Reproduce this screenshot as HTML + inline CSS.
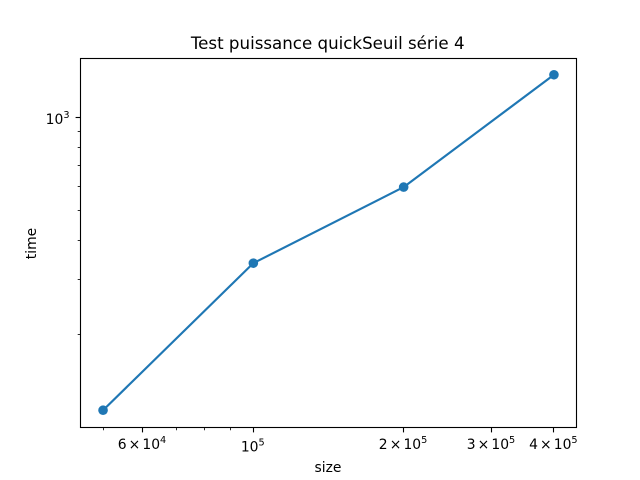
<!DOCTYPE html>
<html lang="fr">
<head>
<meta charset="utf-8">
<title>Test puissance quickSeuil série 4</title>
<style>
  html, body { margin: 0; padding: 0; background: #fff; }
  svg { display: block; }
  text { font-family: "DejaVu Sans", "Liberation Sans", sans-serif; fill: #000; }
</style>
</head>
<body>
<svg id="chart" xmlns="http://www.w3.org/2000/svg" width="640" height="480" viewBox="0 0 640 480">
  <rect x="0" y="0" width="640" height="480" fill="#ffffff"/>
  <text x="327.7" y="49" font-size="16.67" text-anchor="middle">Test puissance quickSeuil série 4</text>
  <text x="328" y="472" font-size="13.89" text-anchor="middle">size</text>
  <text x="36" y="243.5" font-size="13.89" text-anchor="middle" transform="rotate(-90 36 243.5)">time</text>
  <g id="ticks"></g>
  <g id="series"></g>
  <rect x="80.5" y="58.5" width="496" height="369" fill="none" stroke="#000" stroke-width="1.11"/>
</svg>
<script>
const sizes = [50000, 100000, 200000, 400000];
const times = [113.5, 339, 597, 1377];
const xMajorTicks = [60000, 100000, 200000, 300000, 400000];
const xMajorBases = ["6 × 10", "10", "2 × 10", "3 × 10", "4 × 10"];
const xMajorExponents = ["4", "5", "5", "5", "5"];
const xMinorTicks = [50000, 70000, 80000, 90000];
const yMajorTicks = [1000];
const yMajorBases = ["10"];
const yMajorExponents = ["3"];
const yMinorTicks = [200, 300, 400, 500, 600, 700, 800, 900];

const SVG_NS = "http://www.w3.org/2000/svg";
const plotLeft = 80.5, plotRight = 576.5, plotTop = 58, plotBottom = 427;
const MARGIN = 0.05;

function logExtent(values) {
  const lo = Math.log10(Math.min.apply(null, values));
  const hi = Math.log10(Math.max.apply(null, values));
  const pad = (hi - lo) * MARGIN;
  return [lo - pad, hi + pad];
}
const xExtent = logExtent(sizes);
const yExtent = logExtent(times);

function xScale(v) {
  return plotLeft + (Math.log10(v) - xExtent[0]) / (xExtent[1] - xExtent[0]) * (plotRight - plotLeft);
}
function yScale(v) {
  return plotBottom - (Math.log10(v) - yExtent[0]) / (yExtent[1] - yExtent[0]) * (plotBottom - plotTop);
}
function snap(p) {
  return Math.floor(p) + 0.5;
}

const tickLayer = document.getElementById("ticks");
const seriesLayer = document.getElementById("series");

function drawTick(x1, y1, x2, y2, width) {
  const tick = document.createElementNS(SVG_NS, "line");
  
  
  tick.setAttribute("x1", x1);
  tick.setAttribute("y1", y1);
  tick.setAttribute("x2", x2);
  tick.setAttribute("y2", y2);
  tick.setAttribute("stroke", "#000");
  tick.setAttribute("stroke-width", width);
  tickLayer.appendChild(tick);
}

function drawLabel(x, y, anchor, base, exponent) {
  const label = document.createElementNS(SVG_NS, "text");
  
  
  label.setAttribute("x", x);
  label.setAttribute("y", y);
  label.setAttribute("font-size", "13.89");
  label.setAttribute("text-anchor", anchor);
  label.style.wordSpacing = "-2.3px";
  const baseSpan = document.createElementNS(SVG_NS, "tspan");
  baseSpan.textContent = base;
  label.appendChild(baseSpan);
  const expSpan = document.createElementNS(SVG_NS, "tspan");
  expSpan.setAttribute("font-size", "9.72");
  expSpan.setAttribute("dy", "-5.8");
  expSpan.textContent = exponent;
  label.appendChild(expSpan);
  tickLayer.appendChild(label);
}

xMinorTicks.forEach(function (v) {
  const x = snap(xScale(v));
  drawTick(x, plotBottom + 0.5, x, plotBottom + 3.3, 0.83);
});
xMajorTicks.forEach(function (v, i) {
  const x = snap(xScale(v));
  drawTick(x, plotBottom + 0.5, x, plotBottom + 5.4, 1.11);
  drawLabel(xScale(v) - 0.6, i === 1 ? 451.5 : 449, "middle", xMajorBases[i], xMajorExponents[i]);
});
yMinorTicks.forEach(function (v) {
  const y = snap(yScale(v));
  drawTick(plotLeft, y, plotLeft - 2.8, y, 0.83);
});
yMajorTicks.forEach(function (v, i) {
  const y = snap(yScale(v));
  drawTick(plotLeft, y, plotLeft - 4.9, y, 1.11);
  drawLabel(69.5, 124, "end", yMajorBases[i], yMajorExponents[i]);
});

const seriesLine = document.createElementNS(SVG_NS, "polyline");


seriesLine.setAttribute("points", sizes.map(function (s, i) {
  return xScale(s).toFixed(2) + "," + yScale(times[i]).toFixed(2);
}).join(" "));
seriesLine.setAttribute("fill", "none");
seriesLine.setAttribute("stroke", "#1f77b4");
seriesLine.setAttribute("stroke-width", "2.15");
seriesLine.setAttribute("stroke-linejoin", "round");
seriesLine.setAttribute("stroke-linecap", "square");
seriesLayer.appendChild(seriesLine);

sizes.forEach(function (s, i) {
  const point = document.createElementNS(SVG_NS, "circle");
  
  
  point.setAttribute("cx", xScale(s).toFixed(2));
  point.setAttribute("cy", yScale(times[i]).toFixed(2));
  point.setAttribute("r", "4.8");
  point.setAttribute("fill", "#1f77b4");
  seriesLayer.appendChild(point);
});
</script>
</body>
</html>
